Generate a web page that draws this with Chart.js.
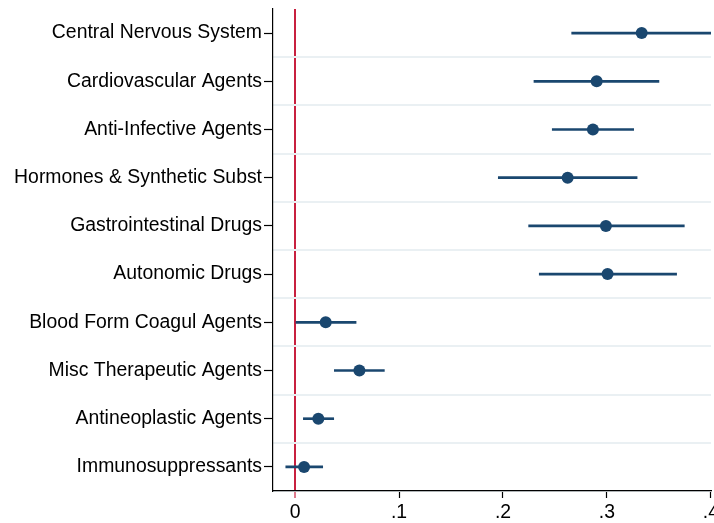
<!DOCTYPE html>
<html>
<head>
<meta charset="utf-8">
<script src="https://cdn.jsdelivr.net/npm/chart.js@4/dist/chart.umd.min.js"></script>
<style>
  html, body { margin: 0; padding: 0; background: #fff; overflow: hidden; }
  #wrap { width: 722px; height: 523px; }
</style>
</head>
<body>
<div id="wrap"><canvas id="coefChart"></canvas></div>
<script>
'use strict';

// ── Data ──────────────────────────────────────────────────────────────────
var categories = [
  'Central Nervous System',
  'Cardiovascular Agents',
  'Anti-Infective Agents',
  'Hormones & Synthetic Subst',
  'Gastrointestinal Drugs',
  'Autonomic Drugs',
  'Blood Form Coagul Agents',
  'Misc Therapeutic Agents',
  'Antineoplastic Agents',
  'Immunosuppressants'
];
var estimates = [0.3334, 0.2901, 0.2865, 0.2622, 0.2990, 0.3006, 0.0295, 0.0619, 0.0224, 0.0087];
var lower     = [0.2661, 0.2298, 0.2474, 0.1955, 0.2247, 0.2349, 0.0000, 0.0378, 0.0080, -0.0089];
var upper     = [0.4010, 0.3500, 0.3257, 0.3290, 0.3744, 0.3670, 0.0587, 0.0859, 0.0372, 0.0266];
var xTicks    = [0, 0.1, 0.2, 0.3, 0.4];

var NAVY = '#1a476f';
var RED  = '#c8203f';
var GRID = '#eaf0f3';
var FONT = { family: "'Liberation Sans', Arial, sans-serif", size: 19.4 };

function isZero(v) { return Math.abs(v) < 1e-9; }

function fmtTick(v) {
  var r = Math.round(v * 10) / 10;
  if (isZero(r)) return '0';
  return String(r).replace(/^0\./, '.').replace(/^-0\./, '-.');
}

new Chart(document.getElementById('coefChart'), {
  type: 'bar',
  data: {
    labels: categories,
    datasets: [
      {
        type: 'bar',
        label: 'CI',
        data: lower.map(function(l, i){ return [l, upper[i]]; }),
        backgroundColor: NAVY,
        borderWidth: 0,
        barThickness: 2,
        order: 2
      },
      {
        type: 'line',
        label: 'Estimate',
        data: estimates,
        showLine: false,
        pointRadius: 6,
        pointHoverRadius: 6,
        pointBackgroundColor: NAVY,
        pointBorderWidth: 0,
        order: 1
      }
    ]
  },
  options: {
    indexAxis: 'y',
    responsive: true,
    maintainAspectRatio: false,
    animation: false,
    layout: { padding: { top: 9, left: 0, bottom: 0, right: 0 } },
    plugins: { legend: { display: false }, tooltip: { enabled: false } },
    scales: {
      x: {
        type: 'linear',
        min: -0.0212,
        max: 0.4,
        afterBuildTicks: function(axis) {
          axis.ticks = xTicks.map(function(v){ return { value: v }; });
        },
        afterFit: function(scale) { scale.height = 32; },
        ticks: {
          color: '#000',
          font: FONT,
          padding: 3,
          maxRotation: 0,
          callback: function(v) { return fmtTick(v); }
        },
        grid: {
          color: function(ctx) { return ctx.tick && isZero(ctx.tick.value) ? RED : 'transparent'; },
          lineWidth: function(ctx) { return ctx.tick && isZero(ctx.tick.value) ? 2 : 1; },
          tickColor: function(ctx) { return ctx.tick && isZero(ctx.tick.value) ? RED : '#000'; },
          tickLength: 7,
          tickWidth: 1.2
        },
        border: { display: true, color: '#000', width: 1.2 }
      },
      y: {
        type: 'category',
        position: 'left',
        offset: true,
        afterFit: function(scale) {
          scale.width = 273;
          scale.paddingTop = 0;
          scale.paddingBottom = 0;
        },
        ticks: { color: '#000', font: FONT, padding: 2 },
        grid: {
          offset: false,
          drawOnChartArea: false,
          tickLength: 9,
          tickColor: '#000',
          tickWidth: 1.2
        },
        border: { display: true, color: '#000', width: 1.2 }
      },
      y2: {
        type: 'category',
        position: 'right',
        offset: true,
        afterFit: function(scale) {
          scale.width = 0;
          scale.paddingTop = 0;
          scale.paddingBottom = 0;
        },
        ticks: { display: false },
        grid: {
          offset: true,
          drawTicks: false,
          color: function(ctx) {
            return (ctx.index === 0 || ctx.index >= categories.length) ? 'transparent' : GRID;
          },
          lineWidth: 2
        },
        border: { display: false }
      }
    }
  }
});
</script>
</body>
</html>
